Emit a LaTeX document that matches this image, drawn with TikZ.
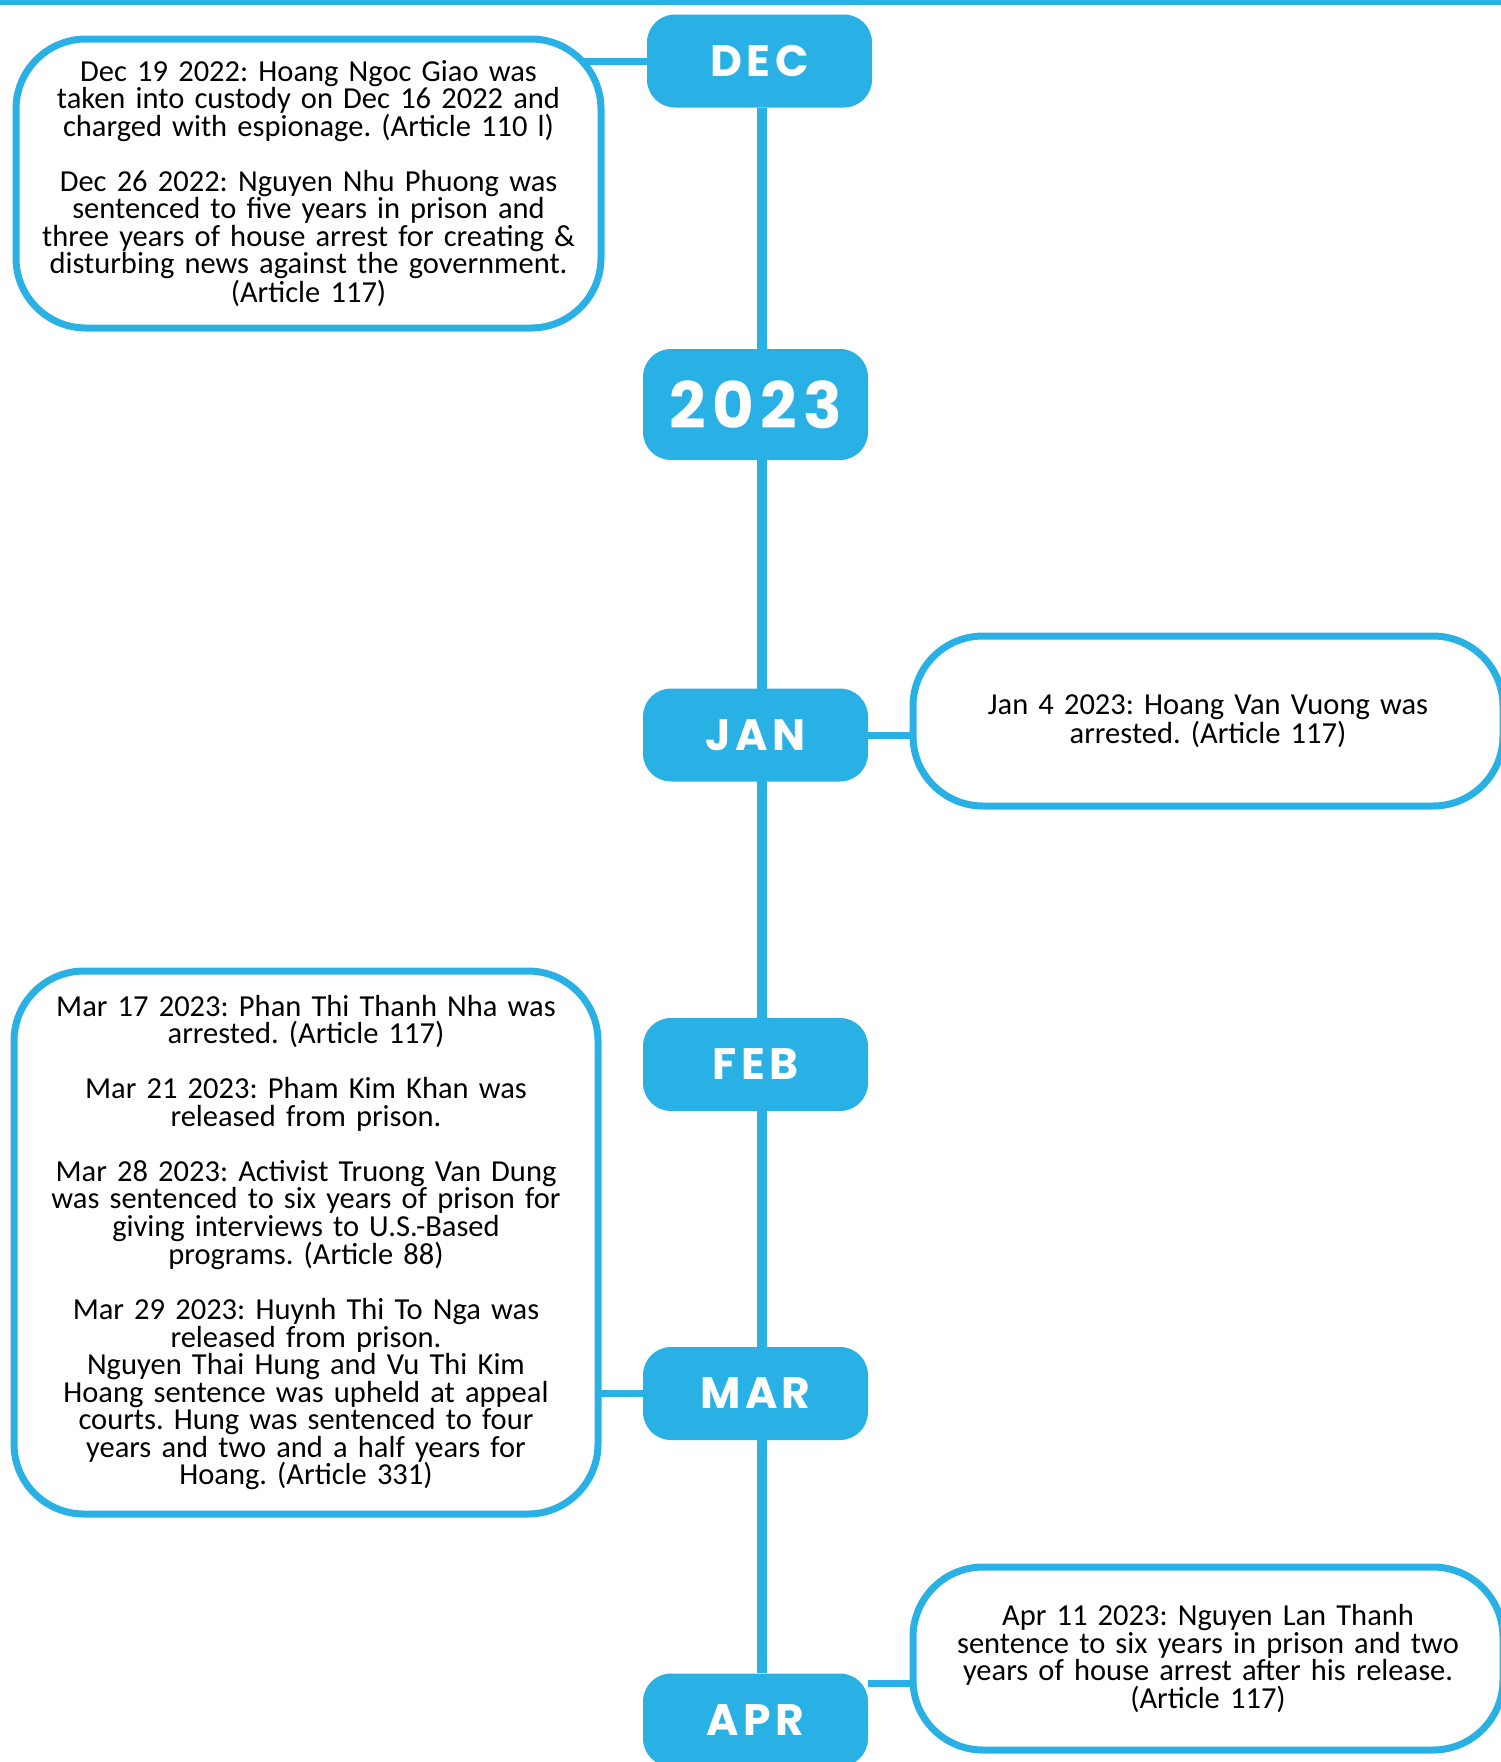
\documentclass[tikz,border=0pt]{standalone}
\usepackage{fontspec}
\setmainfont{Carlito}
\newfontfamily\monthfont{Poppins}[LetterSpace=10]
\usetikzlibrary{backgrounds}
\definecolor{tlblue}{RGB}{41,176,229}
\frenchspacing

\begin{document}
\begin{tikzpicture}[x=1pt,y=-1pt,
		month/.style={fill=tlblue,rounded corners=28pt,minimum width=225pt,minimum height=93pt,
			text=white,font=\monthfont\bfseries\fontsize{44}{44}\selectfont},
		event/.style={draw=tlblue,line width=7pt,fill=white,rounded corners=70pt,inner sep=0pt,
			align=center,text width=575pt,font=\fontsize{30.5}{27.5}\selectfont},
		link/.style={tlblue,line width=7pt},
		spine/.style={tlblue,line width=10pt}]
	\useasboundingbox (0,0) rectangle (1501,1762);
	\draw [tlblue,line width=5pt] (0,2)--(1501,2);
	% months
	\node [month] (dec) at (759.5,61) {DEC};
	\node [month,minimum height=111pt,font=\monthfont\bfseries\fontsize{64}{64}\selectfont] (yr) at (755.5,404.5) {2023};
	\node [month] (jan) at (755.5,735) {JAN};
	\node [month] (feb) at (755.5,1064.5) {FEB};
	\node [month] (mar) at (755.5,1393.5) {MAR};
	\node [month] (apr) at (755.5,1720) {APR};
	% events
	\node [event,minimum width=585pt,minimum height=289pt] (decbox) at (308.5,183.5) {Dec 19 2022: Hoang Ngoc Giao was\\ taken into custody on Dec 16 2022 and\\ charged with espionage. (Article 110 l)\\[27.5pt] Dec 26 2022: Nguyen Nhu Phuong was\\ sentenced to five years in prison and\\ three years of house arrest for creating \&\\ disturbing news against the government.\\ (Article 117)};
	\node [event,minimum width=590pt,minimum height=170pt] (janbox) at (1208,721) {Jan 4 2023: Hoang Van Vuong was\\ arrested. (Article 117)};
	\node [event,minimum width=584pt,minimum height=543pt] (marbox) at (306,1242.5) {Mar 17 2023: Phan Thi Thanh Nha was\\ arrested. (Article 117)\\[27.5pt] Mar 21 2023: Pham Kim Khan was\\ released from prison.\\[27.5pt] Mar 28 2023: Activist Truong Van Dung\\ was sentenced to six years of prison for\\ giving interviews to U.S.-Based\\ programs. (Article 88)\\[27.5pt] Mar 29 2023: Huynh Thi To Nga was\\ released from prison.\\ Nguyen Thai Hung and Vu Thi Kim\\ Hoang sentence was upheld at appeal\\ courts. Hung was sentenced to four\\ years and two and a half years for\\ Hoang. (Article 331)};
	\node [event,minimum width=590pt,minimum height=183pt] (aprbox) at (1208,1658.5) {Apr 11 2023: Nguyen Lan Thanh\\ sentence to six years in prison and two\\ years of house arrest after his release.\\ (Article 117)};
	% connectors
	\begin{pgfonlayer}{background}
		\draw [spine] ([xshift=2.5pt]dec.south)--([xshift=6.5pt]apr.north);
		\draw [link] (dec.west)--(dec.west -| decbox.center);
		\draw [link] (jan.east)--(jan.east -| janbox.center);
		\draw [link] (mar.west)--(mar.west -| marbox.center);
		\coordinate (aprjoin) at ([yshift=-10pt]apr.north east);
		\draw [link] (aprjoin)--(aprjoin -| aprbox.center);
	\end{pgfonlayer}
\end{tikzpicture}
\end{document}
